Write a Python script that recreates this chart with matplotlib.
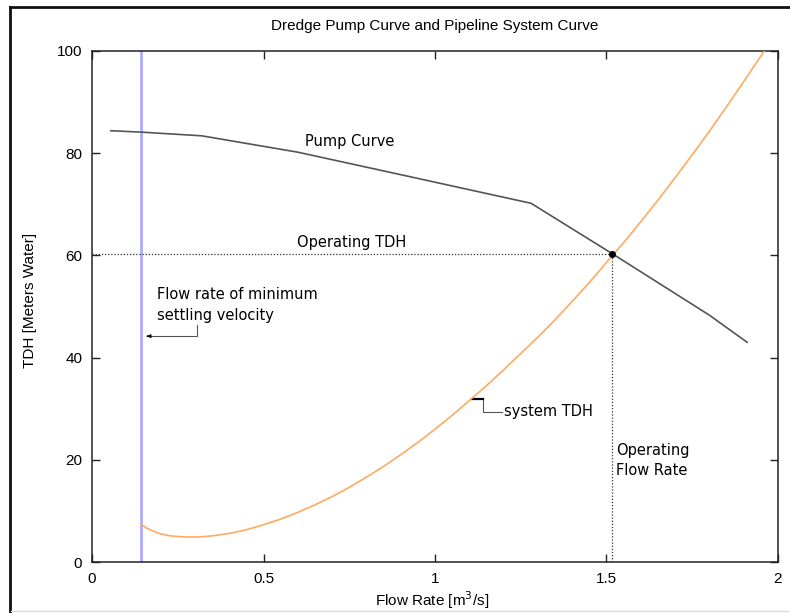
import matplotlib
matplotlib.use("Agg")
import matplotlib.pyplot as plt
from matplotlib.lines import Line2D

# ---- data ----
pump_q = [0.055, 0.15, 0.32, 0.60, 0.90, 1.28, 1.52, 1.80, 1.91]
pump_tdh = [84.4, 84.1, 83.4, 80.2, 75.8, 70.2, 60.2, 48.3, 43.0]

sys_q = [0.143, 0.16, 0.18, 0.20, 0.23, 0.27, 0.31, 0.35, 0.40, 0.45, 0.50,
         0.55, 0.60, 0.65, 0.70, 0.75, 0.80, 0.85, 0.90, 0.95, 1.00, 1.05,
         1.10, 1.15, 1.20, 1.25, 1.30, 1.35, 1.40, 1.45, 1.52, 1.56, 1.60,
         1.65, 1.70, 1.75, 1.80, 1.85, 1.90, 1.96]
sys_tdh = [7.4, 6.6, 6.0, 5.5, 5.1, 4.9, 4.9, 5.1, 5.6, 6.3, 7.3,
           8.4, 9.7, 11.2, 12.8, 14.6, 16.6, 18.7, 21.0, 23.4, 26.0, 28.7,
           31.6, 34.5, 37.6, 40.8, 44.0, 47.4, 51.0, 54.7, 60.2, 63.3, 66.6,
           70.8, 75.2, 79.7, 84.3, 89.1, 94.0, 100.0]

min_settling_q = 0.143
op_q = 1.516
op_tdh = 60.3

x_ticks = [0, 0.5, 1, 1.5, 2]
x_tick_labels = ["0", "0.5", "1", "1.5", "2"]
y_ticks = [0, 20, 40, 60, 80, 100]
y_tick_labels = ["0", "20", "40", "60", "80", "100"]

W, H = 790, 613
fig = plt.figure(figsize=(W / 100, H / 100), dpi=100)
ax = fig.add_axes([92 / W, 1 - 562 / H, (778 - 92) / W, (562 - 51) / H])

lab_font = "Liberation Sans"
txt_font = "DejaVu Sans"

ax.plot(sys_q, sys_tdh, color="#ffaa60", lw=1.2, zorder=3)
ax.plot(pump_q, pump_tdh, color="#555555", lw=1.2, zorder=3)
ax.plot([min_settling_q, min_settling_q], [0, 100], color="#aaaaff", lw=2, zorder=2)
ax.plot([0, op_q], [op_tdh, op_tdh], color="#333333", lw=0.9, ls=(0, (1, 1.5)), zorder=2)
ax.plot([op_q, op_q], [0, op_tdh], color="#333333", lw=0.9, ls=(0, (1, 1.5)), zorder=2)
ax.plot([op_q], [op_tdh], "o", color="black", ms=4, zorder=4)

ax.set_xlim(0, 2)
ax.set_ylim(0, 100)
ax.set_xticks(x_ticks)
ax.set_xticklabels(x_tick_labels)
ax.set_yticks(y_ticks)
ax.set_yticklabels(y_tick_labels)
ax.tick_params(direction="in", length=6, width=1, top=True, right=True,
               labelsize=11, color="#222222", pad=7)
for lbl in ax.get_xticklabels() + ax.get_yticklabels():
    lbl.set_fontfamily(lab_font)
for sp in ax.spines.values():
    sp.set_linewidth(1.1)
    sp.set_color("#222222")

fig.text(435 / W, 1 - 26 / H, "Dredge Pump Curve and Pipeline System Curve",
         fontsize=11, family=lab_font, ha="center", va="center")
fig.text(432 / W, 1 - 600 / H, "Flow Rate [m$^3$/s]", fontsize=11,
         family=lab_font, ha="center", va="center")
fig.text(30 / W, 1 - 300 / H, "TDH [Meters Water]", fontsize=11,
         family=lab_font, ha="center", va="center", rotation=90)

fs = 10.5
ax.text(0.62, 82.2, "Pump Curve", fontsize=fs, family=txt_font, va="center")
ax.text(0.598, 62.6, "Operating TDH", fontsize=fs, family=txt_font, va="center")
ax.text(0.19, 50.3, "Flow rate of minimum\nsettling velocity", fontsize=fs,
        family=txt_font, va="center", linespacing=1.45)
ax.text(1.20, 29.5, "system TDH", fontsize=fs, family=txt_font, va="center")
ax.text(1.528, 19.9, "Operating\nFlow Rate", fontsize=fs, family=txt_font,
        va="center", linespacing=1.45)

# pointers
ax.plot([0.306, 0.306, 0.16], [46.3, 44.2, 44.2], color="#555555", lw=0.8)
ax.annotate("", xy=(0.152, 44.2), xytext=(0.17, 44.2),
            arrowprops=dict(arrowstyle="-|>", color="black", lw=0.8,
                            mutation_scale=5))
ax.plot([1.14, 1.14, 1.195], [31.9, 29.3, 29.3], color="#555555", lw=0.8)
ax.plot([1.108, 1.14], [31.9, 31.9], color="black", lw=1.6)

# screenshot frame
fig.add_artist(Line2D([9.5 / W, 9.5 / W], [0, 1 - 6.5 / H], color="#111111",
                      lw=2, transform=fig.transFigure))
fig.add_artist(Line2D([9.5 / W, 1], [1 - 6.5 / H, 1 - 6.5 / H], color="#111111",
                      lw=2, transform=fig.transFigure))
fig.add_artist(Line2D([11 / W, 1], [1 - 611 / H, 1 - 611 / H], color="#dddddd",
                      lw=1, transform=fig.transFigure))

fig.savefig("out.png", dpi=100)
